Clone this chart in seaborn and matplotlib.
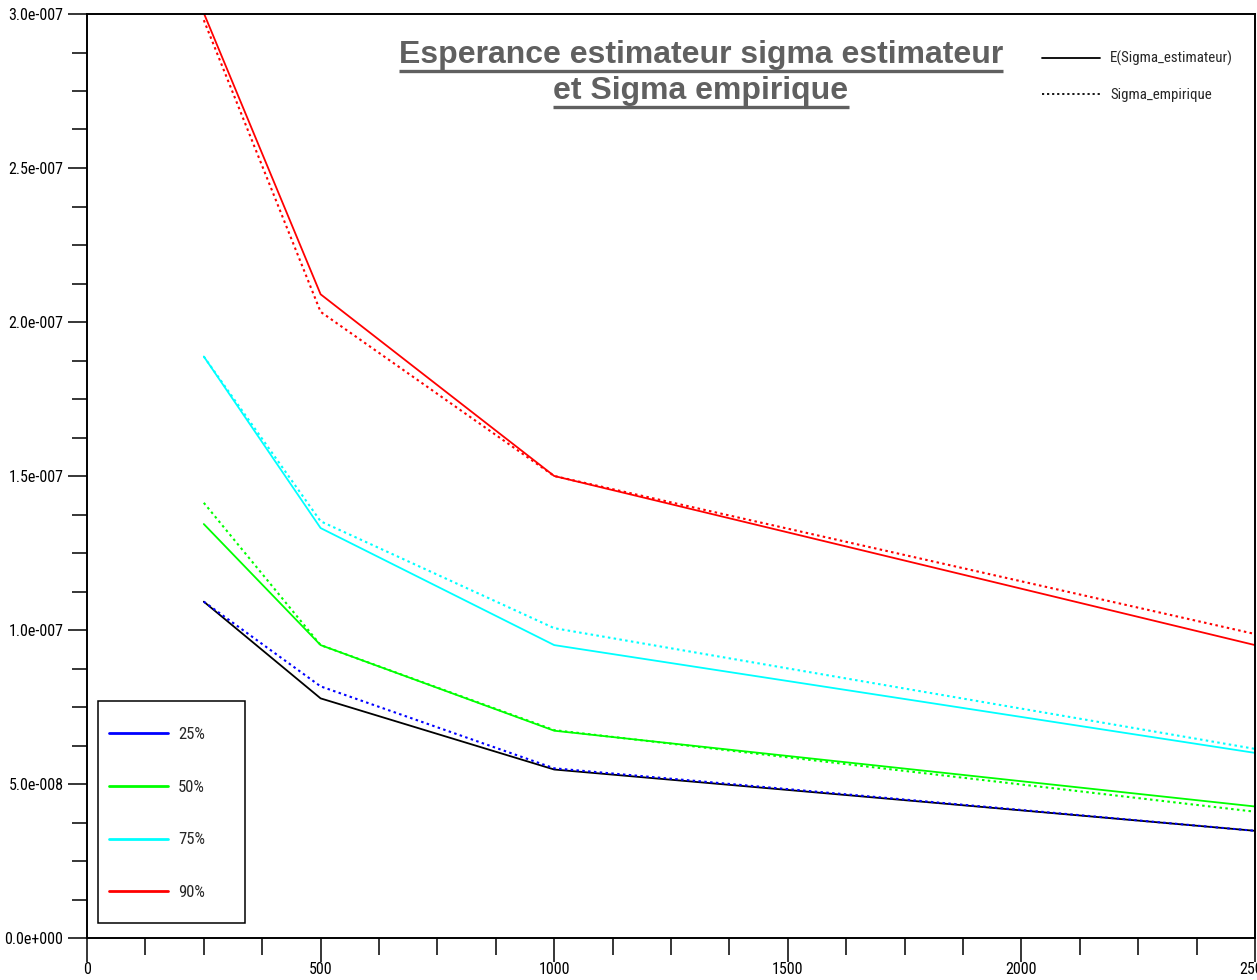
import numpy as np
import pandas as pd
import matplotlib
matplotlib.use("Agg")
import matplotlib.pyplot as plt
from matplotlib.ticker import MultipleLocator, FuncFormatter
from matplotlib.lines import Line2D
from matplotlib.patches import Rectangle
import seaborn as sns

# Sample sizes
n = [250, 500, 1000, 2500]
# Expected value of the sigma estimator, per quantile
e_25 = [1.092e-7, 0.778e-7, 0.547e-7, 0.348e-7]
e_50 = [1.344e-7, 0.951e-7, 0.673e-7, 0.427e-7]
e_75 = [1.888e-7, 1.331e-7, 0.951e-7, 0.601e-7]
e_90 = [3.003e-7, 2.090e-7, 1.500e-7, 0.951e-7]
# Empirical sigma, per quantile
s_25 = [1.092e-7, 0.817e-7, 0.551e-7, 0.348e-7]
s_50 = [1.413e-7, 0.951e-7, 0.675e-7, 0.410e-7]
s_75 = [1.888e-7, 1.353e-7, 1.006e-7, 0.614e-7]
s_90 = [2.980e-7, 2.033e-7, 1.500e-7, 0.987e-7]

quantiles = ["25%", "50%", "75%", "90%"]
quant_colors = ["#0000ff", "#00ff00", "#00ffff", "#ff0000"]
title_text = "Esperance estimateur sigma estimateur\net Sigma empirique"
style_labels = ["E(Sigma_estimateur)", "Sigma_empirique"]

sns.set_style("ticks")
plt.rcParams["font.family"] = ["DejaVu Sans Condensed", "Roboto Condensed",
                               "Liberation Sans Narrow", "DejaVu Sans"]

rows = []
for q, e, s in zip(quantiles, [e_25, e_50, e_75, e_90], [s_25, s_50, s_75, s_90]):
    for x, v in zip(n, e):
        rows.append({"n": x, "value": v, "quantile": q, "kind": "estimateur"})
    for x, v in zip(n, s):
        rows.append({"n": x, "value": v, "quantile": q, "kind": "empirique"})
df = pd.DataFrame(rows)

W, H = 1257, 980
fig = plt.figure(figsize=(W / 100, H / 100), dpi=100)
AX_L, AX_R, AX_T, AX_B = 87, 1255, 14, 938
ax = fig.add_axes([AX_L / W, (H - AX_B) / H, (AX_R - AX_L) / W, (AX_B - AX_T) / H])


def ax_frac(px, py):
    """Pixel position (from the top-left corner) to axes fraction."""
    return (px - AX_L) / (AX_R - AX_L), (AX_B - py) / (AX_B - AX_T)


dotted = (0, (1.2, 1.6))
for q, col in zip(quantiles, quant_colors):
    solid_col = "#000000" if q == "25%" else col
    sub_e = df[(df["quantile"] == q) & (df["kind"] == "estimateur")]
    sub_s = df[(df["quantile"] == q) & (df["kind"] == "empirique")]
    sns.lineplot(data=sub_e, x="n", y="value", ax=ax, color=solid_col,
                 linewidth=1.3, estimator=None, legend=False)
    sns.lineplot(data=sub_s, x="n", y="value", ax=ax, color=col,
                 linewidth=1.5, linestyle=dotted, estimator=None, legend=False)

ax.set_xlim(0, 2500)
ax.set_ylim(0, 3e-7)
ax.set_xlabel("")
ax.set_ylabel("")

ax.xaxis.set_major_locator(MultipleLocator(500))
ax.xaxis.set_minor_locator(MultipleLocator(125))
ax.yaxis.set_major_locator(MultipleLocator(5e-8))
ax.yaxis.set_minor_locator(MultipleLocator(1.25e-8))


def sci_fmt(v, pos):
    if v == 0:
        return "0.0e+000"
    exp = int(np.floor(np.log10(abs(v))))
    mant = v / 10 ** exp
    if round(mant, 1) >= 10:
        mant /= 10
        exp += 1
    sign = "-" if exp < 0 else "+"
    return f"{mant:.1f}e{sign}{abs(exp):03d}"


ax.yaxis.set_major_formatter(FuncFormatter(sci_fmt))
ax.tick_params(axis="both", which="both", direction="out", colors="black",
               top=False, right=False, labelsize=11.5)
ax.tick_params(axis="x", which="major", length=17, width=1.1, pad=0.5)
ax.tick_params(axis="x", which="minor", length=12, width=1.1)
ax.tick_params(axis="y", which="major", length=14, width=1.1, pad=3)
ax.tick_params(axis="y", which="minor", length=11, width=1.1)
for sp in ax.spines.values():
    sp.set_visible(True)
    sp.set_color("black")
    sp.set_linewidth(1.4)

# Quantile legend: frame drawn as a patch, entries as a frameless legend
bx0, by0 = ax_frac(98, 923)
bx1, by1 = ax_frac(245, 701)
ax.add_patch(Rectangle((bx0, by0), bx1 - bx0, by1 - by0, transform=ax.transAxes,
                       fill=True, facecolor="white", edgecolor="black",
                       linewidth=1.1, zorder=4))
q_handles = [Line2D([], [], color=c, linewidth=2) for c in quant_colors]
fs1 = 12
fs1_px = fs1 * 100 / 72
row1 = 0.94 * fs1_px
leg1 = ax.legend(q_handles, quantiles, loc="upper left",
                 bbox_to_anchor=ax_frac(109, 735 - row1 / 2),
                 frameon=False, fontsize=fs1,
                 handlelength=59 / fs1_px, handletextpad=10 / fs1_px,
                 labelspacing=(53.3 - row1) / fs1_px,
                 borderpad=0, borderaxespad=0)
leg1.set_zorder(5)
ax.add_artist(leg1)

# Line style legend
fs2 = 10.7
fs2_px = fs2 * 100 / 72
row2 = 0.94 * fs2_px
s_handles = [Line2D([], [], color="black", linewidth=1.3),
             Line2D([], [], color="black", linewidth=1.3, linestyle=dotted)]
leg2 = ax.legend(s_handles, style_labels, loc="upper left",
                 bbox_to_anchor=ax_frac(1042, 58 - row2 / 2),
                 frameon=False, fontsize=fs2, handlelength=58 / fs2_px,
                 handletextpad=10 / fs2_px, labelspacing=(36 - row2) / fs2_px,
                 borderpad=0, borderaxespad=0)

# Underlined title
title_lines = title_text.split("\n")
title_y = [55, 91]
tx, _ = ax_frac(701, 0)
fig.canvas.draw()
renderer = fig.canvas.get_renderer()
inv = ax.transAxes.inverted()
for line, py in zip(title_lines, title_y):
    t = ax.text(tx, ax_frac(0, py)[1], line, transform=ax.transAxes,
                ha="center", va="center", fontsize=23, fontweight="bold",
                color="#606060", family=["Liberation Sans", "DejaVu Sans"])
    bb = t.get_window_extent(renderer=renderer)
    (x0, y0), (x1, y1) = inv.transform([(bb.x0, bb.y0), (bb.x1, bb.y1)])
    uy = y0 - 1 / (AX_B - AX_T)
    ax.plot([x0, x1], [uy, uy], transform=ax.transAxes, color="#606060",
            linewidth=2.4, solid_capstyle="butt", clip_on=False)

fig.savefig("out.png", dpi=100)
